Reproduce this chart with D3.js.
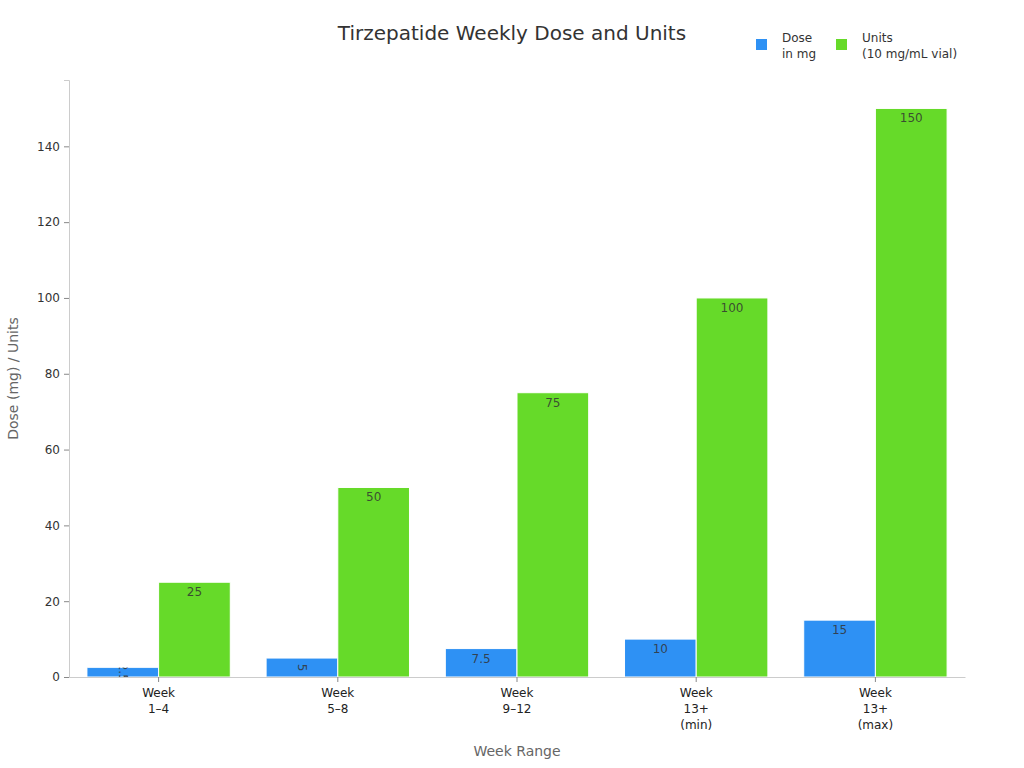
<!DOCTYPE html>
<html>
<head>
<meta charset="utf-8">
<script src="https://cdn.jsdelivr.net/npm/d3@7"></script>
<style>
  body { margin: 0; background: #fff; }
  text { font-family: "DejaVu Sans", sans-serif; }
</style>
</head>
<body>
<svg></svg>
<script>
var width = 1024;
var height = 768;

// data
var weekRanges = [["Week", "1\u20134"], ["Week", "5\u20138"], ["Week", "9\u201312"], ["Week", "13+", "(min)"], ["Week", "13+", "(max)"]];
var doseMg = [2.5, 5, 7.5, 10, 15];
var unitsVial = [25, 50, 75, 100, 150];
var seriesNames = ["dose", "units"];
var legendLabels = [["Dose", "in mg"], ["Units", "(10 mg/mL vial)"]];
var yTicks = [0, 20, 40, 60, 80, 100, 120, 140];

var colors = { dose: "#2e91f4", units: "#66da29" };

var margin = { top: 80, right: 59, bottom: 91, left: 69 };
var innerW = width - margin.left - margin.right;
var innerH = height - margin.top - margin.bottom;

var svg = d3.select("svg")
  .attr("width", width)
  .attr("height", height);

var rows = weekRanges.map(function(w, i) {
  return { key: i, label: w, dose: doseMg[i], units: unitsVial[i] };
});

var x0 = d3.scaleBand()
  .domain(rows.map(d => d.key))
  .range([0, innerW])
  .paddingInner(0.2)
  .paddingOuter(0.1);

var x1 = d3.scaleBand()
  .domain(seriesNames)
  .range([0, x0.bandwidth()]);

var y = d3.scaleLinear()
  .domain([0, 157.5])
  .range([innerH, 0]);

var g = svg.append("g")
  .attr("transform", "translate(" + margin.left + "," + margin.top + ")");

// title
svg.append("text")
  .attr("x", 512)
  .attr("y", 40)
  .attr("text-anchor", "middle")
  .attr("font-size", 20)
  .attr("fill", "#333")
  .text("Tirzepatide Weekly Dose and Units");

// bars
var defs = svg.append("defs");
var groups = g.selectAll("g.grp")
  .data(rows)
  .enter().append("g")
  .attr("class", "grp")
  .attr("transform", d => "translate(" + x0(d.key) + ",0)");

var bars = groups.selectAll("g.bar")
  .data(d => seriesNames.map(s => ({ key: d.key, s: s, v: d[s] })))
  .enter().append("g")
  .attr("class", "bar");

bars.append("rect")
  .attr("x", d => x1(d.s))
  .attr("y", d => y(d.v))
  .attr("width", x1.bandwidth())
  .attr("height", d => innerH - y(d.v))
  .attr("fill", d => colors[d.s])
  .attr("stroke", "#fff")
  .attr("stroke-width", 1);

// value labels; short bars get a rotated label clipped to the bar
bars.each(function(d) {
  var sel = d3.select(this);
  var h = innerH - y(d.v);
  var cx = x1(d.s) + x1.bandwidth() / 2;
  var t = sel.append("text")
    .attr("font-size", 12)
    .attr("fill", "#333")
    .attr("fill-opacity", 0.85)
    .text(d.v);
  if (h < 22) {
    var id = "clip-" + d.key + "-" + d.s;
    defs.append("clipPath").attr("id", id)
      .append("rect")
      .attr("x", x1(d.s))
      .attr("y", y(d.v))
      .attr("width", x1.bandwidth())
      .attr("height", h);
    var cy = y(d.v) + h / 2;
    t.attr("text-anchor", "middle")
      .attr("dominant-baseline", "central")
      .attr("transform", "translate(" + cx + "," + cy + ") rotate(90)");
    sel.attr("clip-path", "url(#" + id + ")");
  } else {
    t.attr("x", cx)
      .attr("y", y(d.v) + 14)
      .attr("text-anchor", "middle");
  }
});

// axes
var yAxis = g.append("g")
  .call(d3.axisLeft(y).tickValues(yTicks).tickSize(5).tickPadding(4));
yAxis.select(".domain").attr("stroke", "#ccc");
yAxis.selectAll(".tick line").attr("stroke", "#888");
yAxis.selectAll(".tick text").attr("font-size", 12).attr("fill", "#333")
  .attr("font-family", "DejaVu Sans, sans-serif");

var xAxis = g.append("g")
  .attr("transform", "translate(0," + innerH + ")")
  .call(d3.axisBottom(x0).tickSize(5).tickSizeOuter(0).tickFormat(""));
xAxis.select(".domain").attr("stroke", "#ccc");
xAxis.selectAll(".tick line").attr("stroke", "#888");
xAxis.selectAll(".tick").each(function(k) {
  var t = d3.select(this).append("text")
    .attr("text-anchor", "middle")
    .attr("font-size", 12)
    .attr("fill", "#222")
    .attr("font-family", "DejaVu Sans, sans-serif");
  rows[k].label.forEach(function(line, i) {
    t.append("tspan").attr("x", 0).attr("y", 20 + i * 16).text(line);
  });
});

// axis titles
svg.append("text")
  .attr("transform", "translate(18," + (margin.top + innerH / 2) + ") rotate(-90)")
  .attr("text-anchor", "middle")
  .attr("font-size", 14)
  .attr("fill", "#666")
  .text("Dose (mg) / Units");

svg.append("text")
  .attr("x", margin.left + innerW / 2)
  .attr("y", 756)
  .attr("text-anchor", "middle")
  .attr("font-size", 14)
  .attr("fill", "#666")
  .text("Week Range");

// legend
var legend = svg.append("g");
var legX = [756, 836];
seriesNames.forEach(function(s, i) {
  var lg = legend.append("g").attr("transform", "translate(" + legX[i] + ",39)");
  lg.append("rect").attr("width", 11).attr("height", 11).attr("fill", colors[s]);
  var t = lg.append("text").attr("font-size", 12).attr("fill", "#333");
  legendLabels[i].forEach(function(line, j) {
    t.append("tspan").attr("x", 26).attr("y", 3 + j * 16).text(line);
  });
});
</script>
</body>
</html>
